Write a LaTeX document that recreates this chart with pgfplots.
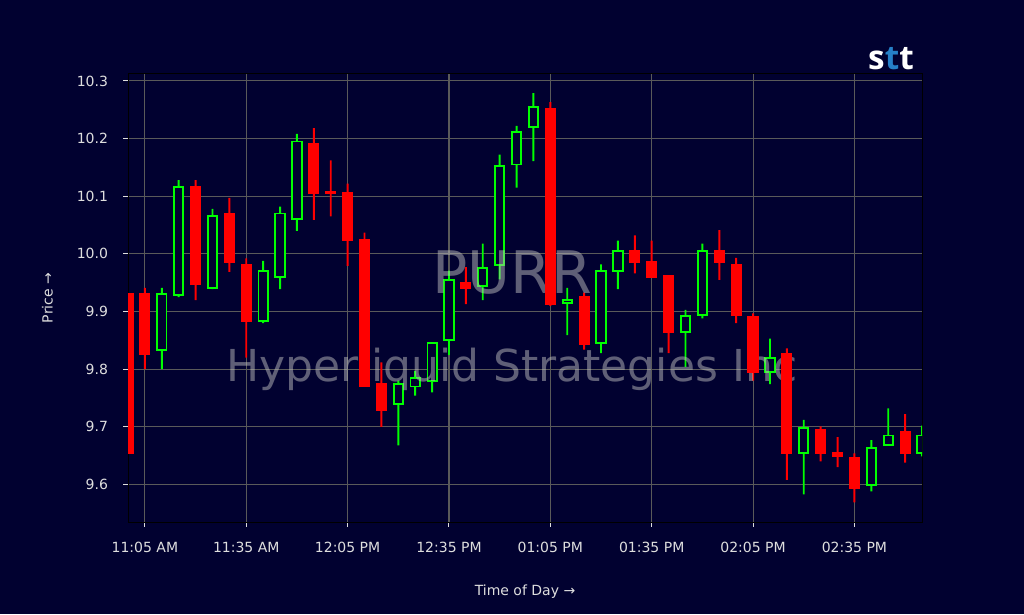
\documentclass[border=0pt]{standalone}
\usepackage{pgfplots}
\pgfplotsset{compat=1.18}
\usepackage{pgfplotstable}
\usepackage{fontspec}
\setmainfont{DejaVu Sans}
\newfontfamily\logofont{Open Sans}
\definecolor{bg}{RGB}{1,1,48}
\definecolor{candlered}{RGB}{255,0,0}
\definecolor{candlegreen}{RGB}{0,255,0}
\definecolor{gridc}{RGB}{90,90,90}
\definecolor{txt}{RGB}{222,222,222}
\definecolor{wm}{RGB}{190,190,190}
\definecolor{logoblue}{RGB}{38,128,200}

% t = minutes after 11:00 AM (5-minute candles)
\pgfplotstableread{
t open high low close
0 9.931 9.931 9.654 9.654
5 9.931 9.941 9.800 9.827
20 10.116 10.128 9.920 9.948
30 10.070 10.097 9.969 9.985
35 9.980 9.992 9.820 9.883
55 10.190 10.218 10.059 10.106
60 10.107 10.162 10.065 10.105
65 10.106 10.122 9.979 10.024
70 10.025 10.037 9.770 9.770
75 9.775 9.812 9.700 9.729
100 9.950 9.977 9.913 9.941
125 10.251 10.263 9.910 9.913
135 9.925 9.933 9.834 9.844
150 10.005 10.032 9.966 9.985
155 9.986 10.023 9.960 9.960
160 9.961 9.961 9.828 9.864
175 10.005 10.041 9.955 9.985
180 9.980 9.993 9.880 9.894
185 9.890 9.897 9.780 9.795
195 9.826 9.836 9.608 9.654
205 9.695 9.701 9.640 9.654
210 9.655 9.682 9.630 9.649
215 9.646 9.654 9.569 9.594
230 9.691 9.722 9.638 9.654
}\reddata

\pgfplotstableread{
t open high low close
10 9.834 9.941 9.800 9.930
15 9.928 10.128 9.925 10.116
25 9.941 10.078 9.939 10.066
40 9.884 9.988 9.880 9.970
45 9.960 10.082 9.939 10.070
50 10.060 10.208 10.040 10.195
80 9.740 9.780 9.668 9.774
85 9.770 9.797 9.754 9.784
90 9.779 9.845 9.760 9.845
95 9.850 9.971 9.825 9.955
105 9.944 10.018 9.920 9.975
110 9.980 10.172 9.956 10.152
115 10.155 10.222 10.115 10.211
120 10.220 10.279 10.161 10.255
130 9.915 9.941 9.859 9.920
140 9.845 9.982 9.828 9.970
145 9.970 10.023 9.939 10.005
165 9.864 9.903 9.804 9.893
170 9.894 10.018 9.888 10.005
190 9.795 9.853 9.774 9.820
200 9.654 9.712 9.583 9.698
220 9.599 9.677 9.588 9.664
225 9.669 9.732 9.669 9.685
235 9.654 9.702 9.649 9.685
}\greendata

\pgfplotsset{
  frame/.style={
    at={(96pt,69pt)}, anchor=south west,
    scale only axis, width=595.5pt, height=336pt,
    xmin=0, xmax=235, ymin=9.535, ymax=10.312,
    ybar stacked, bar shift=0pt,
  },
  overlay/.style={frame, hide axis},
}

\begin{document}
\begin{tikzpicture}
\fill[bg] (0,0) rectangle (768pt,460.5pt);
% main axis: grid, ticks, labels, green wicks
\begin{axis}[
  frame,
  axis background/.style={fill=bg},
  axis line style={black, line width=0.75pt},
  grid=major, major grid style={gridc, line width=0.8pt},
  tick align=outside, major tick length=3.5pt, tick pos=left,
  tick style={txt, line width=0.75pt},
  xtick={5,35,65,95,125,155,185,215},
  xticklabels={11:05 AM,11:35 AM,12:05 PM,12:35 PM,01:05 PM,01:35 PM,02:05 PM,02:35 PM},
  ytick={9.6,9.7,9.8,9.9,10.0,10.1,10.2,10.3},
  yticklabels={9.6,9.7,9.8,9.9,10.0,10.1,10.2,10.3},
  ticklabel style={font=\fontsize{10.5}{12}\selectfont, text=txt},
  xticklabel style={yshift=-8pt},
  yticklabel style={xshift=-8pt},
  xlabel={Time of Day →}, ylabel={Price →},
  every axis x label/.style={at={(axis description cs:0.5,0)}, anchor=center, yshift=-52.5pt, font=\fontsize{10.5}{12}\selectfont, text=txt},
  every axis y label/.style={at={([xshift=-60.4pt]axis description cs:0,0.5)}, rotate=90, anchor=center, font=\fontsize{10.5}{12}\selectfont, text=txt},
]
\addplot[draw=none, fill=none] table[x=t, y=low] {\greendata};
\addplot[draw=none, fill=candlegreen, bar width=1.45pt] table[x=t, y expr=\thisrow{high}-\thisrow{low}] {\greendata};
\end{axis}
% green bodies: dark inside (hides grid and wick)
\begin{axis}[overlay]
\addplot[draw=none, fill=none] table[x=t, y=open] {\greendata};
\addplot[draw=none, fill=bg, bar width=2.75] table[x=t, y expr=\thisrow{close}-\thisrow{open}] {\greendata};
\end{axis}
% green bodies: outline
\begin{axis}[overlay]
\addplot[draw=none, fill=none] table[x=t, y=open] {\greendata};
\addplot[draw=candlegreen, fill=none, line width=1.4pt, bar width=2.75] table[x=t, y expr=\thisrow{close}-\thisrow{open}] {\greendata};
\end{axis}
% red wicks
\begin{axis}[overlay]
\addplot[draw=none, fill=none] table[x=t, y=low] {\reddata};
\addplot[draw=none, fill=candlered, bar width=1.45pt] table[x=t, y expr=\thisrow{high}-\thisrow{low}] {\reddata};
\end{axis}
% red filled bodies + watermark
\begin{axis}[overlay]
\addplot[draw=none, fill=none] table[x=t, y=close] {\reddata};
\addplot[draw=candlered, fill=candlered, line width=1.4pt, bar width=2.75] table[x=t, y expr=\thisrow{open}-\thisrow{close}] {\reddata};
\node[anchor=base, text=wm, text opacity=0.5, inner sep=0pt] at (axis description cs:0.4836,0.5105) {\fontsize{44}{48}\selectfont PURR};
\node[anchor=base, text=wm, text opacity=0.5, inner sep=0pt] at (axis description cs:0.4836,0.3147) {\fontsize{33}{38}\selectfont Hyperliquid Strategies Inc};
\end{axis}
\node[anchor=base east, inner sep=0pt, text=white] at (685.5pt,408.4pt) {\logofont\bfseries\fontsize{25}{28}\selectfont s\textcolor{logoblue}{t}t};
\end{tikzpicture}
\end{document}
